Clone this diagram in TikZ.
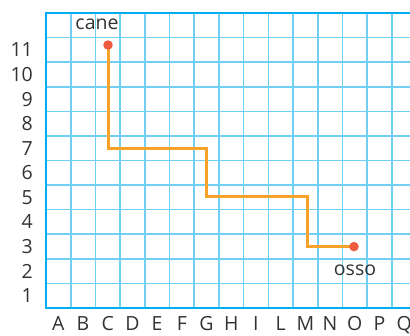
\documentclass[tikz,border=0pt]{standalone}
\usepackage{fontspec}
\setmainfont{Open Sans}
\definecolor{gridc}{HTML}{70D0F4}
\definecolor{borderc}{HTML}{00AEEF}
\definecolor{pathc}{HTML}{F7A229}
\definecolor{dotc}{HTML}{EF5B3F}
\tikzset{
  gridline/.style={draw=gridc, line width=1.6pt},
  borderline/.style={draw=borderc, line width=2.2pt},
  lab/.style={inner sep=0pt, font=\fontsize{19.5}{20}\selectfont, text=black!80},
  route/.style={draw=pathc, line width=3pt},
  dot/.style={circle, fill=dotc, minimum size=9.5pt, inner sep=0pt}
}
\begin{document}
\begin{tikzpicture}[x=1pt,y=-1pt]
\useasboundingbox (0,0) rectangle (410,335);
\fill[white] (0,0) rectangle (410,335);
\foreach \i in {1,...,14} \draw[gridline] ({46+\i*24.7},13) -- ({46+\i*24.7},308);
\foreach \j in {1,...,11} \draw[gridline] (46,{13+\j*24.58}) -- (410,{13+\j*24.58});
\draw[borderline] (411,13) -- (46,13) -- (46,308) -- (411,308);
\foreach \n in {1,...,11} \node[lab, anchor=east] (r\n) at (33,{308-(\n-0.5)*24.58}) {\n};
\foreach \c [count=\k] in {A,B,C,D,E,F,G,H,I,L,M,N,O,P,Q} \node[lab, anchor=base] (c\k) at ({46+(\k-0.5)*24.7},330.5) {\c};
\coordinate (cane) at (108,45);
\coordinate (p1) at (108,148.3);
\coordinate (p2) at (206,148.3);
\coordinate (p3) at (206,196.5);
\coordinate (p4) at (307.3,196.5);
\coordinate (p5) at (307.3,246.6);
\coordinate (osso) at (354,246.6);
\draw[route] (cane) -- (p1) -- (p2) -- (p3) -- (p4) -- (p5) -- (osso);
\node[dot] (dcane) at (cane) {};
\node[dot] (dosso) at (osso) {};
\node[lab] (tcane) at (97,24) {cane};
\node[lab] (tosso) at (355,270) {osso};
\end{tikzpicture}
\end{document}
